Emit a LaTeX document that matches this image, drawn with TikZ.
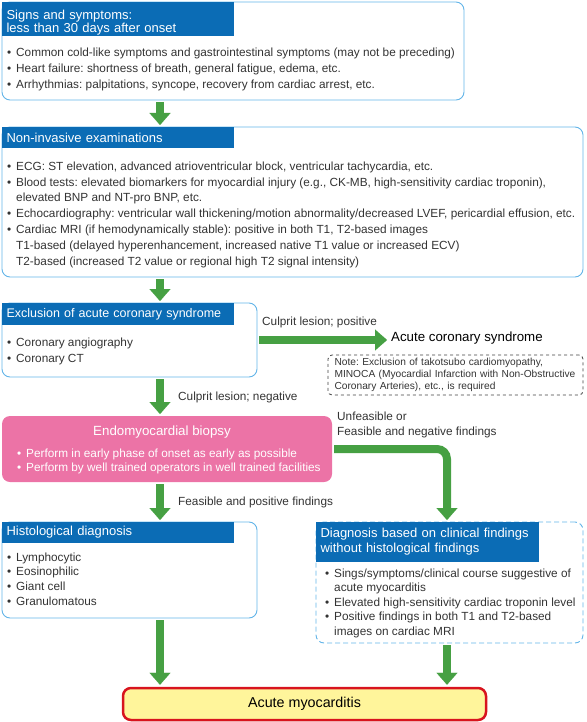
\documentclass[tikz,border=0pt]{standalone}
\usepackage{fontspec}
\setmainfont{Liberation Sans}
\usetikzlibrary{arrows.meta}
\definecolor{frameblue}{HTML}{62B4E8}
\definecolor{headblue}{HTML}{0B6CB5}
\definecolor{arrowgreen}{HTML}{46A043}
\definecolor{biopink}{HTML}{EC73A6}
\definecolor{resultyellow}{HTML}{FFF59B}
\definecolor{resultred}{HTML}{D8141E}
\newcommand\itm{\makebox[9pt][l]{\textbullet}}
\newcommand\cont{\hspace*{9pt}}
\frenchspacing
\begin{document}
\begin{tikzpicture}[x=1pt,y=-1pt,
  frame/.style={draw=frameblue,line width=0.9pt,rounded corners=8pt,anchor=north west,inner sep=0pt,outer sep=0pt},
  head/.style={fill=headblue,text=white,anchor=north west,inner xsep=4.5pt,inner ysep=0pt,outer sep=0pt,align=left,minimum width=232,text width=223,font=\fontsize{13}{13.5}\selectfont},
  body/.style={anchor=north west,inner sep=0pt,align=left,text=black!80,font=\fontsize{11.8}{16}\selectfont},
  tag/.style={anchor=west,inner sep=0pt,align=left,text=black!80,font=\fontsize{11.8}{15}\selectfont},
  flowarrow/.style={draw=arrowgreen,line width=8pt,-{Triangle[width=21pt,length=12pt,line width=0.1pt]},shorten <=2pt,shorten >=2pt},
]
  \useasboundingbox (0,0) rectangle (586,722);
  % columns of the arrows:
  \coordinate (lcol) at (160,0);
  \coordinate (rcol) at (447,0);
  % signs and symptoms:
  \node[frame,minimum width=462,minimum height=98] (sympt) at (2,2) {};
  \node[head,minimum height=34] (sympthead) at (sympt.north west) {\rule{0pt}{17pt}Signs and symptoms:\\less than 30 days after onset};
  \node[body] (symptbody) at (7,47.5) {\itm Common cold-like symptoms and gastrointestinal symptoms (may not be preceding)\\
    \itm Heart failure: shortness of breath, general fatigue, edema, etc.\\
    \itm Arrhythmias: palpitations, syncope, recovery from cardiac arrest, etc.};
  % non-invasive examinations:
  \node[frame,minimum width=581,minimum height=150] (exam) at (2,127) {};
  \node[head,minimum height=21] (examhead) at (exam.north west) {Non-invasive examinations};
  \node[body,font=\fontsize{11.8}{15.8}\selectfont] (exambody) at (7,161.5) {\itm ECG: ST elevation, advanced atrioventricular block, ventricular tachycardia, etc.\\
    \itm Blood tests: elevated biomarkers for myocardial injury (e.g., CK-MB, high-sensitivity cardiac troponin),\\
    \cont elevated BNP and NT-pro BNP, etc.\\
    \itm Echocardiography: ventricular wall thickening/motion abnormality/decreased LVEF, pericardial effusion, etc.\\
    \itm Cardiac MRI (if hemodynamically stable): positive in both T1, T2-based images\\
    \cont T1-based (delayed hyperenhancement, increased native T1 value or increased ECV)\\
    \cont T2-based (increased T2 value or regional high T2 signal intensity)};
  % exclusion of acute coronary syndrome:
  \node[frame,minimum width=255,minimum height=74] (excl) at (2,303) {};
  \node[head,minimum height=22,font=\fontsize{12.5}{13.5}\selectfont] (exclhead) at (excl.north west) {Exclusion of acute coronary syndrome};
  \node[body] (exclbody) at (7,337.5) {\itm Coronary angiography\\ \itm Coronary CT};
  % acute coronary syndrome and note:
  \node[anchor=west,inner sep=2pt,font=\fontsize{13.3}{15}\selectfont] (acs) at (389,338) {Acute coronary syndrome};
  \node[draw=black!75,line width=0.8pt,dashed,rounded corners=4pt,anchor=north west,inner xsep=6.5pt,inner ysep=0pt,outer sep=0pt,
    minimum width=255,minimum height=40,text width=242,align=left,text=black!80,font=\fontsize{10.2}{12}\selectfont] (note) at (328,355)
    {Note: Exclusion of takotsubo cardiomyopathy,\\MINOCA (Myocardial Infarction with Non-Obstructive\\Coronary Arteries), etc., is required};
  % endomyocardial biopsy:
  \node[fill=biopink,rounded corners=8pt,anchor=north west,inner sep=0pt,outer sep=0pt,minimum width=330,minimum height=66] (biopsy) at (2,416) {};
  \node[text=white,inner sep=0pt,font=\fontsize{13.3}{15}\selectfont] (biotitle) at (162,432) {Endomyocardial biopsy};
  \node[body,text=white,font=\fontsize{11.8}{14}\selectfont] (biobody) at (17,448.5) {\itm Perform in early phase of onset as early as possible\\
    \itm Perform by well trained operators in well trained facilities};
  % histological diagnosis:
  \node[frame,minimum width=255,minimum height=96] (histo) at (2,522) {};
  \node[head,minimum height=21] (histohead) at (histo.north west) {Histological diagnosis};
  \node[body,font=\fontsize{11.8}{14.7}\selectfont] (histobody) at (7,552.5) {\itm Lymphocytic\\ \itm Eosinophilic\\ \itm Giant cell\\ \itm Granulomatous};
  % diagnosis from clinical findings:
  \node[frame,dash pattern=on 5pt off 3pt,minimum width=267,minimum height=121] (clin) at (316,522) {};
  \node[head,minimum width=223,text width=214,minimum height=40,font=\fontsize{13}{15}\selectfont] (clinhead) at (clin.north west) {Diagnosis based on clinical findings\\without histological findings};
  \node[body,font=\fontsize{11.8}{14.5}\selectfont] (clinbody) at (325,568.5) {\itm Sings/symptoms/clinical course suggestive of\\
    \cont acute myocarditis\\
    \itm Elevated high-sensitivity cardiac troponin level\\
    \itm Positive findings in both T1 and T2-based\\
    \cont images on cardiac MRI};
  % result:
  \node[draw=resultred,fill=resultyellow,line width=2.5pt,rounded corners=8pt,minimum width=363,minimum height=32,font=\fontsize{14.3}{16}\selectfont] (myo) at (304.5,704) {Acute myocarditis};
  % arrows:
  \draw[flowarrow] (sympt.south -| lcol) -- (exam.north -| lcol);
  \draw[flowarrow] (exam.south -| lcol) -- (excl.north -| lcol);
  \draw[flowarrow] (excl.east) -- (excl.east -| acs.west);
  \draw[flowarrow] (excl.south -| lcol) -- (biopsy.north -| lcol);
  \draw[flowarrow] (biopsy.south -| lcol) -- (histo.north -| lcol);
  \draw[flowarrow,rounded corners=10pt] (biopsy.east) -| (clin.north -| rcol);
  \draw[flowarrow] (histo.south -| lcol) -- (myo.north -| lcol);
  \draw[flowarrow] (clin.south -| rcol) -- (myo.north -| rcol);
  % arrow labels:
  \node[tag] (poslabel) at (262,322) {Culprit lesion; positive};
  \node[tag] (neglabel) at (178,397) {Culprit lesion; negative};
  \node[tag,anchor=north west] (unflabel) at (337,412) {Unfeasible or\\Feasible and negative findings};
  \node[tag] (feaslabel) at (178,502) {Feasible and positive findings};
\end{tikzpicture}
\end{document}
